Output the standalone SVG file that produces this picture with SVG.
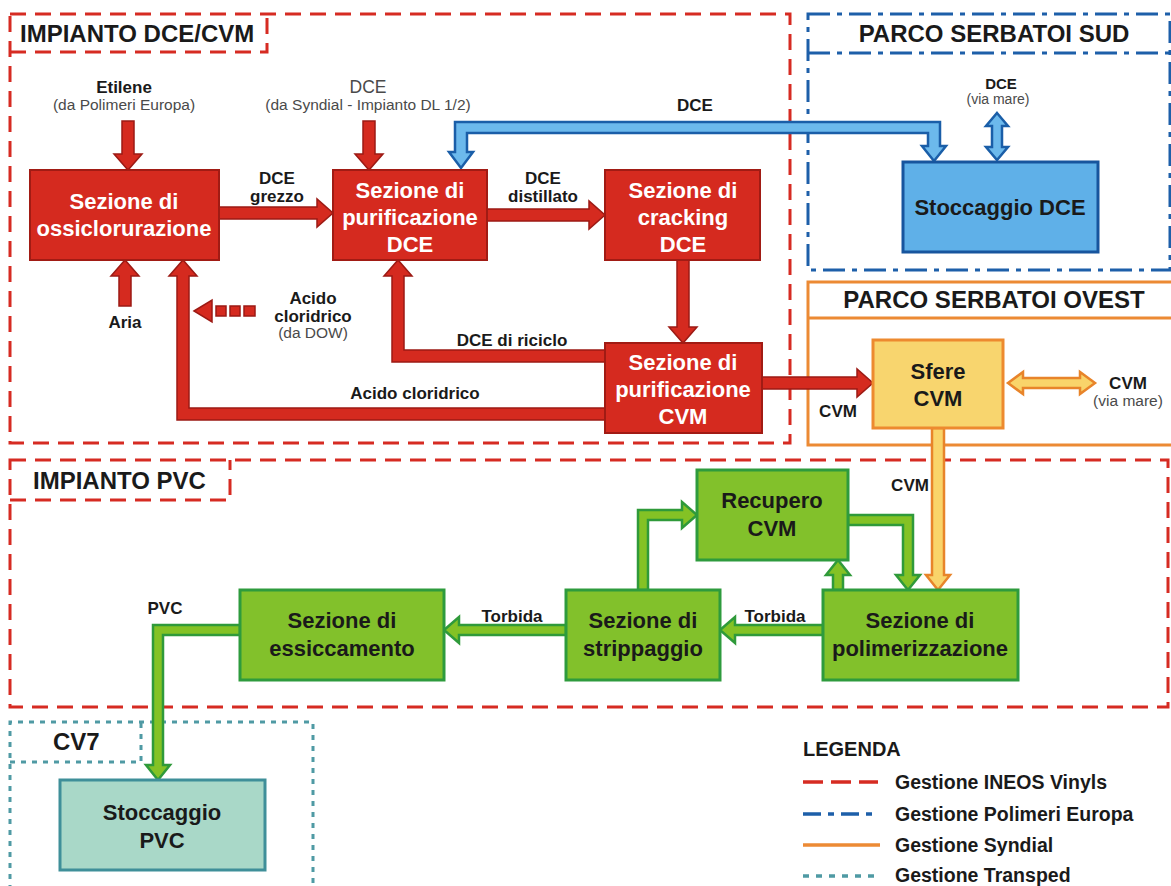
<svg xmlns="http://www.w3.org/2000/svg" width="1171" height="886" viewBox="0 0 1171 886">
<style>
.fr{fill:none;stroke:#d62b22;stroke-width:3;stroke-dasharray:16 9}
.fb{fill:none;stroke:#1d5fa9;stroke-width:3;stroke-dasharray:22 7 5 7}
.fo{fill:none;stroke:#ec8a34;stroke-width:3}
.ft{fill:none;stroke:#4f9aa4;stroke-width:3;stroke-dasharray:5 6}
.title{font-family:"Liberation Sans",Arial,sans-serif;font-weight:bold;font-size:24px;fill:#1a1a1a}
.rbox{fill:#d52a1f;stroke:#a11b14;stroke-width:2}
.bbox{fill:#5fb0e8;stroke:#17559e;stroke-width:3}
.ybox{fill:#f8d56e;stroke:#ed8a2f;stroke-width:3}
.gbox{fill:#82c12b;stroke:#2e9b3d;stroke-width:3}
.tbox{fill:#a9d8c8;stroke:#3f8f99;stroke-width:3}
.bt{font-family:"Liberation Sans",Arial,sans-serif;font-weight:bold;font-size:22px;text-anchor:middle}
.w{fill:#ffffff}
.d{fill:#1a1a1a}
.ra{fill:#d52a1f;stroke:#9c1a14;stroke-width:1.5}
.ba{fill:#6cb9ec;stroke:#1a5ea8;stroke-width:2.5}
.oa{fill:#f9d46a;stroke:#e8842a;stroke-width:2.5}
.ga{fill:#84c225;stroke:#2f9a3a;stroke-width:2.5}
.lb{font-family:"Liberation Sans",Arial,sans-serif;font-weight:bold;font-size:17px;fill:#1a1a1a;text-anchor:middle}
.lr{font-family:"Liberation Sans",Arial,sans-serif;font-size:15.5px;fill:#4a4a4a;text-anchor:middle}
.lg{font-family:"Liberation Sans",Arial,sans-serif;font-weight:bold;font-size:19.5px;fill:#1a1a1a}
</style>

<g id="frames">
  <g id="frame-dcecvm">
    <path class="fr" d="M10,14 H790 V443 H10 Z"/>
    <path class="fr" d="M10,52 H267 V14"/>
    <text class="title" x="20" y="42">IMPIANTO DCE/CVM</text>
  </g>
  <g id="frame-sud">
    <path class="fb" d="M808,14 H1170 V270 H808 Z"/>
    <path class="fb" d="M808,53 H1170"/>
    <text class="title" x="994" y="42" text-anchor="middle">PARCO SERBATOI SUD</text>
  </g>
  <g id="frame-ovest">
    <path class="fo" d="M808,282 H1180 V445 H808 Z"/>
    <path class="fo" d="M808,318 H1180"/>
    <text class="title" x="994" y="308" text-anchor="middle">PARCO SERBATOI OVEST</text>
  </g>
  <g id="frame-pvc">
    <path class="fr" d="M10,460 H1168 V707 H10 Z"/>
    <path class="fr" d="M10,500 H230 V460"/>
    <text class="title" x="33" y="489">IMPIANTO PVC</text>
  </g>
  <g id="frame-cv7">
    <path class="ft" d="M10,890 V722 H313 V890"/>
    <path class="ft" d="M10,762 H141 V722"/>
    <text class="title" x="53" y="750">CV7</text>
  </g>
</g>

<g id="connectors">
  <path class="ra" d="M122,121 H134 V154 H142 L128,170 L114,154 H122 Z"/>
  <path class="ra" d="M363,121 H375 V154 H383 L369,170 L355,154 H363 Z"/>
  <path class="ra" d="M219,207 H317 V199 L333,213 L317,227 V219 H219 Z"/>
  <path class="ra" d="M487,209 H589 V201 L605,215 L589,229 V221 H487 Z"/>
  <path class="ra" d="M677,260 H689 V327 H697 L683,343 L669,327 H677 Z"/>
  <path class="ra" d="M119,306 H131 V276 H139 L125,260 L111,276 H119 Z"/>
  <path class="ra" d="M605,408 H189 V276 H197 L183,260 L169,276 H177 V420 H605 Z"/>
  <path class="ra" d="M605,350 H404 V276 H412 L398,260 L384,276 H392 V362 H605 Z"/>
  <path class="ra" d="M762,377 H857 V369 L873,383 L857,397 V389 H762 Z"/>
  <g id="dow-arrow">
    <path class="ra" d="M194,311 L212,300 V322 Z"/>
    <rect class="ra" x="216" y="306" width="10" height="10"/>
    <rect class="ra" x="230" y="306" width="10" height="10"/>
    <rect class="ra" x="244" y="306" width="11" height="10"/>
  </g>
  <path class="ba" d="M455,152 V122 H940 V146 H946 L934,161 L922,146 H928 V133 H467 V152 H473 L461,168 L449,152 Z"/>
  <path class="ba" d="M997,113 L1008,126 H1002 V147 H1008 L997,160 L986,147 H992 V126 H986 Z"/>
  <path class="oa" d="M1008,383 L1023,372 V378 H1080 V372 L1095,383 L1080,394 V388 H1023 V394 Z"/>
  <path class="oa" d="M932,428 H944 V575 H950 L938,590 L926,575 H932 Z"/>
  <path class="ga" d="M638,590 V510 H682 V502 L697,515 L682,528 V520 H648 V590 Z"/>
  <path class="ga" d="M848,515 H913 V575 H920 L908,590 L896,575 H903 V525 H848 Z"/>
  <path class="ga" d="M833,590 V575 H826 L838,560 L850,575 H843 V590 Z"/>
  <path class="ga" d="M823,625 H735 V617 L720,630 L735,643 V635 H823 Z"/>
  <path class="ga" d="M566,625 H459 V617 L444,630 L459,643 V635 H566 Z"/>
  <path class="ga" d="M240,625 H153 V765 H146 L158,780 L170,765 H163 V635 H240 Z"/>
  <text class="lb" x="124" y="93">Etilene</text>
  <text class="lr" x="124" y="110">(da Polimeri Europa)</text>
  <text class="lr" x="368" y="93" style="font-size:17.5px">DCE</text>
  <text class="lr" x="368" y="110">(da Syndial - Impianto DL 1/2)</text>
  <text class="lb" x="695" y="111">DCE</text>
  <text class="lb" x="1001" y="89" style="font-size:15px">DCE</text>
  <text class="lr" x="998" y="104" style="font-size:14px">(via mare)</text>
  <text class="lb" x="277" y="184">DCE</text>
  <text class="lb" x="277" y="202">grezzo</text>
  <text class="lb" x="543" y="184">DCE</text>
  <text class="lb" x="543" y="202">distillato</text>
  <text class="lb" x="125" y="328">Aria</text>
  <text class="lb" x="313" y="304">Acido</text>
  <text class="lb" x="313" y="322">cloridrico</text>
  <text class="lr" x="313" y="338">(da  DOW)</text>
  <text class="lb" x="512" y="346">DCE di riciclo</text>
  <text class="lb" x="415" y="399">Acido cloridrico</text>
  <text class="lb" x="838" y="417">CVM</text>
  <text class="lb" x="1128" y="389">CVM</text>
  <text class="lr" x="1128" y="406">(via mare)</text>
  <text class="lb" x="910" y="491">CVM</text>
  <text class="lb" x="775" y="622">Torbida</text>
  <text class="lb" x="512" y="622">Torbida</text>
  <text class="lb" x="165" y="614">PVC</text>
</g>

<g id="node-ossiclorurazione">
  <rect class="rbox" x="30" y="170" width="189" height="90"/>
  <text class="bt w" x="124" y="209">Sezione di</text>
  <text class="bt w" x="124" y="236">ossiclorurazione</text>
</g>
<g id="node-purificazione-dce">
  <rect class="rbox" x="333" y="170" width="154" height="90"/>
  <text class="bt w" x="410" y="198">Sezione di</text>
  <text class="bt w" x="410" y="225">purificazione</text>
  <text class="bt w" x="410" y="252">DCE</text>
</g>
<g id="node-cracking-dce">
  <rect class="rbox" x="605" y="170" width="155" height="90"/>
  <text class="bt w" x="683" y="198">Sezione di</text>
  <text class="bt w" x="683" y="225">cracking</text>
  <text class="bt w" x="683" y="252">DCE</text>
</g>
<g id="node-purificazione-cvm">
  <rect class="rbox" x="605" y="343" width="157" height="90"/>
  <text class="bt w" x="683" y="370">Sezione di</text>
  <text class="bt w" x="683" y="397">purificazione</text>
  <text class="bt w" x="683" y="424">CVM</text>
</g>
<g id="node-stoccaggio-dce">
  <rect class="bbox" x="903" y="162" width="195" height="90"/>
  <text class="bt d" x="1000" y="215">Stoccaggio DCE</text>
</g>
<g id="node-sfere-cvm">
  <rect class="ybox" x="873" y="340" width="130" height="88"/>
  <text class="bt d" x="938" y="379">Sfere</text>
  <text class="bt d" x="938" y="406">CVM</text>
</g>
<g id="node-recupero-cvm">
  <rect class="gbox" x="697" y="470" width="151" height="90"/>
  <text class="bt d" x="772" y="508">Recupero</text>
  <text class="bt d" x="772" y="536">CVM</text>
</g>
<g id="node-polimerizzazione">
  <rect class="gbox" x="823" y="590" width="195" height="90"/>
  <text class="bt d" x="920" y="628">Sezione di</text>
  <text class="bt d" x="920" y="656">polimerizzazione</text>
</g>
<g id="node-strippaggio">
  <rect class="gbox" x="566" y="590" width="154" height="90"/>
  <text class="bt d" x="643" y="628">Sezione di</text>
  <text class="bt d" x="643" y="656">strippaggio</text>
</g>
<g id="node-essiccamento">
  <rect class="gbox" x="240" y="590" width="204" height="90"/>
  <text class="bt d" x="342" y="628">Sezione di</text>
  <text class="bt d" x="342" y="656">essiccamento</text>
</g>
<g id="node-stoccaggio-pvc">
  <rect class="tbox" x="60" y="780" width="205" height="90"/>
  <text class="bt d" x="162" y="820">Stoccaggio</text>
  <text class="bt d" x="162" y="848">PVC</text>
</g>

<g id="legend">
  <text class="lg" x="803" y="756" style="font-size:20px">LEGENDA</text>
  <path d="M803,782 H878" stroke="#d62b22" stroke-width="3.5" stroke-dasharray="20 8" fill="none"/>
  <path d="M803,814 H878" stroke="#1d5fa9" stroke-width="3.5" stroke-dasharray="18 7 6 7" fill="none"/>
  <path d="M803,845 H880" stroke="#ec8a34" stroke-width="3.5" fill="none"/>
  <path d="M803,876 H878" stroke="#4f9aa4" stroke-width="3.5" stroke-dasharray="6 7" fill="none"/>
  <text class="lg" x="895" y="789">Gestione INEOS Vinyls</text>
  <text class="lg" x="895" y="821">Gestione Polimeri Europa</text>
  <text class="lg" x="895" y="852">Gestione Syndial</text>
  <text class="lg" x="895" y="882">Gestione Transped</text>
</g>
</svg>
